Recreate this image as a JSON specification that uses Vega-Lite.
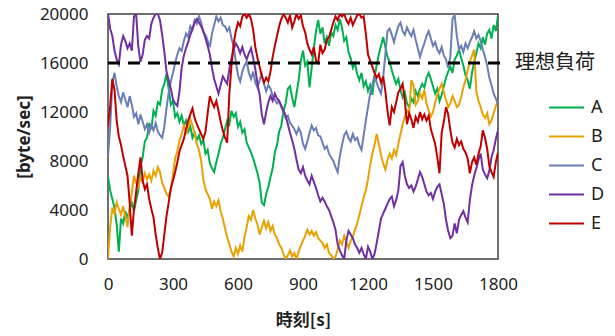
{
"$schema":"https://vega.github.io/schema/vega-lite/v6.json",
"width":390,"height":245,
"autosize":"none",
"padding":{"left":108,"top":14,"right":117,"bottom":77},
"background":"white",
"config":{"view":{"stroke":"#404040","strokeWidth":1.5},"font":"Noto Sans"},
"layer":[
{"data":{"values":[
{"t":0,"A":6700,"B":0,"C":8400,"D":20000,"E":10800},
{"t":10,"A":5600,"B":2600,"C":10800,"D":18800,"E":12500},
{"t":20,"A":4900,"B":4200,"C":14400,"D":18200,"E":14700},
{"t":30,"A":4200,"B":3700,"C":15200,"D":17000,"E":13800},
{"t":40,"A":2800,"B":4600,"C":14100,"D":16300,"E":11300},
{"t":50,"A":600,"B":4100,"C":13300,"D":15900,"E":10000},
{"t":60,"A":3300,"B":3600,"C":12800,"D":17500,"E":9300},
{"t":70,"A":2900,"B":4300,"C":13600,"D":18200,"E":8400},
{"t":80,"A":3900,"B":3500,"C":13000,"D":17800,"E":7600},
{"t":90,"A":3300,"B":2600,"C":12400,"D":17200,"E":6800},
{"t":100,"A":4100,"B":4200,"C":13300,"D":17600,"E":4600},
{"t":110,"A":4600,"B":5400,"C":12600,"D":17000,"E":1900},
{"t":120,"A":3900,"B":6800,"C":11600,"D":19800,"E":4100},
{"t":130,"A":4800,"B":6200,"C":11900,"D":20000,"E":5500},
{"t":140,"A":5600,"B":5900,"C":11000,"D":17300,"E":7000},
{"t":150,"A":7600,"B":6600,"C":11800,"D":16100,"E":8300},
{"t":160,"A":8300,"B":6300,"C":11200,"D":16700,"E":6400},
{"t":170,"A":9600,"B":7000,"C":10600,"D":17900,"E":5700},
{"t":180,"A":9900,"B":6500,"C":11000,"D":18200,"E":6100},
{"t":190,"A":11100,"B":6900,"C":10300,"D":18000,"E":4900},
{"t":200,"A":10600,"B":6400,"C":10900,"D":19200,"E":4100},
{"t":210,"A":12100,"B":7200,"C":10500,"D":19700,"E":3400},
{"t":220,"A":11700,"B":6800,"C":11100,"D":20000,"E":2000},
{"t":230,"A":12800,"B":7500,"C":10400,"D":20000,"E":900},
{"t":240,"A":12600,"B":7100,"C":10100,"D":19500,"E":0},
{"t":250,"A":13800,"B":6200,"C":9900,"D":18300,"E":500},
{"t":260,"A":14300,"B":5800,"C":10800,"D":16900,"E":2000},
{"t":270,"A":15100,"B":5300,"C":12300,"D":15300,"E":3500},
{"t":280,"A":13900,"B":5100,"C":13600,"D":14600,"E":4600},
{"t":290,"A":12600,"B":5600,"C":14500,"D":13900,"E":5800},
{"t":300,"A":12900,"B":6900,"C":15200,"D":13000,"E":6400},
{"t":310,"A":11600,"B":8200,"C":16000,"D":12700,"E":7100},
{"t":320,"A":11900,"B":8800,"C":16700,"D":12500,"E":7900},
{"t":330,"A":11200,"B":9700,"C":17200,"D":13700,"E":8800},
{"t":340,"A":11700,"B":10200,"C":17000,"D":15600,"E":9300},
{"t":350,"A":10900,"B":10900,"C":17800,"D":16600,"E":9800},
{"t":360,"A":11300,"B":10300,"C":18400,"D":17200,"E":10600},
{"t":370,"A":10400,"B":10700,"C":18100,"D":17700,"E":11300},
{"t":380,"A":10800,"B":11400,"C":19000,"D":18300,"E":11800},
{"t":390,"A":9900,"B":10900,"C":18700,"D":18800,"E":12300},
{"t":400,"A":10300,"B":10200,"C":19500,"D":19300,"E":11500},
{"t":410,"A":9700,"B":9400,"C":19200,"D":19600,"E":11000},
{"t":420,"A":10100,"B":8900,"C":19800,"D":19300,"E":10600},
{"t":430,"A":9400,"B":8000,"C":19300,"D":19000,"E":10200},
{"t":440,"A":9700,"B":6500,"C":18500,"D":18600,"E":9800},
{"t":450,"A":8600,"B":5700,"C":18300,"D":18000,"E":10400},
{"t":460,"A":8900,"B":5300,"C":17800,"D":17400,"E":11900},
{"t":470,"A":7800,"B":4900,"C":17300,"D":16700,"E":13300},
{"t":480,"A":7400,"B":4100,"C":18400,"D":15600,"E":12800},
{"t":490,"A":7100,"B":4700,"C":19100,"D":14700,"E":12400},
{"t":500,"A":7900,"B":4300,"C":19800,"D":14100,"E":12900},
{"t":510,"A":8600,"B":4800,"C":19400,"D":13500,"E":12100},
{"t":520,"A":9400,"B":3900,"C":19700,"D":14200,"E":11200},
{"t":530,"A":9900,"B":3300,"C":19100,"D":14900,"E":10500},
{"t":540,"A":10600,"B":2500,"C":19000,"D":14600,"E":9900},
{"t":550,"A":11300,"B":1800,"C":18600,"D":14300,"E":9500},
{"t":560,"A":11000,"B":1200,"C":18900,"D":15500,"E":13500},
{"t":570,"A":12100,"B":600,"C":18000,"D":16400,"E":15800},
{"t":580,"A":11600,"B":200,"C":17400,"D":17100,"E":17600},
{"t":590,"A":11900,"B":900,"C":16100,"D":17600,"E":18600},
{"t":600,"A":10800,"B":400,"C":15000,"D":17300,"E":19300},
{"t":610,"A":11200,"B":1100,"C":14500,"D":16800,"E":19000},
{"t":620,"A":10300,"B":600,"C":15300,"D":17300,"E":19800},
{"t":630,"A":10600,"B":1800,"C":15800,"D":16700,"E":20000},
{"t":640,"A":9500,"B":2600,"C":16100,"D":16300,"E":19700},
{"t":650,"A":9100,"B":3500,"C":15200,"D":16800,"E":20000},
{"t":660,"A":8700,"B":3200,"C":14700,"D":17200,"E":19600},
{"t":670,"A":8200,"B":4000,"C":15300,"D":16400,"E":18700},
{"t":680,"A":7600,"B":3300,"C":14400,"D":15500,"E":17300},
{"t":690,"A":7000,"B":2800,"C":14000,"D":14300,"E":16400},
{"t":700,"A":6200,"B":2000,"C":14600,"D":13400,"E":15700},
{"t":710,"A":4600,"B":2600,"C":15100,"D":11800,"E":14900},
{"t":720,"A":4400,"B":3100,"C":14300,"D":11000,"E":14400},
{"t":730,"A":5300,"B":2500,"C":13700,"D":12000,"E":14800},
{"t":740,"A":5900,"B":3000,"C":14200,"D":12800,"E":14500},
{"t":750,"A":6700,"B":2300,"C":13900,"D":13300,"E":15300},
{"t":760,"A":7400,"B":2700,"C":13300,"D":12900,"E":16500},
{"t":770,"A":8700,"B":2000,"C":13000,"D":13500,"E":17400},
{"t":780,"A":9300,"B":1700,"C":12700,"D":13100,"E":18200},
{"t":790,"A":10400,"B":1200,"C":12900,"D":12900,"E":19000},
{"t":800,"A":10900,"B":900,"C":12400,"D":12500,"E":19600},
{"t":810,"A":12100,"B":400,"C":12000,"D":12100,"E":20000},
{"t":820,"A":12700,"B":0,"C":11500,"D":11700,"E":19700},
{"t":830,"A":13900,"B":300,"C":11700,"D":11000,"E":19300},
{"t":840,"A":14100,"B":700,"C":11100,"D":10300,"E":19900},
{"t":850,"A":13200,"B":200,"C":10900,"D":9700,"E":18900},
{"t":860,"A":12400,"B":500,"C":10600,"D":9000,"E":19400},
{"t":870,"A":13500,"B":0,"C":10200,"D":8100,"E":20000},
{"t":880,"A":14600,"B":600,"C":10700,"D":7300,"E":19600},
{"t":890,"A":16200,"B":1100,"C":10300,"D":7000,"E":19900},
{"t":900,"A":17000,"B":1500,"C":9400,"D":7500,"E":19000},
{"t":910,"A":15800,"B":1900,"C":9000,"D":6800,"E":18500},
{"t":920,"A":16100,"B":2400,"C":9600,"D":6400,"E":17600},
{"t":930,"A":14000,"B":2000,"C":10300,"D":6100,"E":17100},
{"t":940,"A":15600,"B":2300,"C":10900,"D":6800,"E":16700},
{"t":950,"A":17200,"B":1900,"C":10500,"D":6300,"E":17300},
{"t":960,"A":18600,"B":2200,"C":10700,"D":5800,"E":16200},
{"t":970,"A":19500,"B":1700,"C":10100,"D":5200,"E":16000},
{"t":980,"A":18400,"B":1500,"C":10000,"D":4700,"E":17500},
{"t":990,"A":18900,"B":1300,"C":9500,"D":5000,"E":16800},
{"t":1000,"A":17600,"B":900,"C":9000,"D":4700,"E":17100},
{"t":1010,"A":18100,"B":1200,"C":9200,"D":4300,"E":17900},
{"t":1020,"A":17400,"B":500,"C":8600,"D":4000,"E":18100},
{"t":1030,"A":18500,"B":300,"C":8300,"D":3500,"E":18700},
{"t":1040,"A":18200,"B":0,"C":8000,"D":3000,"E":19300},
{"t":1050,"A":19100,"B":200,"C":7500,"D":2400,"E":19800},
{"t":1060,"A":18700,"B":800,"C":7100,"D":1200,"E":19500},
{"t":1070,"A":19600,"B":1500,"C":8400,"D":700,"E":20000},
{"t":1080,"A":18900,"B":1200,"C":9300,"D":300,"E":19800},
{"t":1090,"A":17800,"B":1900,"C":10100,"D":0,"E":20000},
{"t":1100,"A":18100,"B":1400,"C":10400,"D":1500,"E":19500},
{"t":1110,"A":16900,"B":900,"C":9900,"D":2300,"E":19200},
{"t":1120,"A":16400,"B":1500,"C":9600,"D":2000,"E":19700},
{"t":1130,"A":15600,"B":1800,"C":10200,"D":1700,"E":19100},
{"t":1140,"A":16000,"B":2400,"C":9700,"D":1200,"E":19500},
{"t":1150,"A":15100,"B":2900,"C":9900,"D":900,"E":19900},
{"t":1160,"A":14600,"B":3600,"C":9300,"D":500,"E":20000},
{"t":1170,"A":15200,"B":4300,"C":8900,"D":900,"E":19700},
{"t":1180,"A":14100,"B":5000,"C":10100,"D":400,"E":19800},
{"t":1190,"A":14500,"B":5600,"C":11300,"D":0,"E":18400},
{"t":1200,"A":13700,"B":6500,"C":12400,"D":1000,"E":16700},
{"t":1210,"A":14200,"B":7700,"C":13500,"D":600,"E":16200},
{"t":1220,"A":13400,"B":8600,"C":14200,"D":0,"E":15700},
{"t":1230,"A":14900,"B":9300,"C":15000,"D":400,"E":15200},
{"t":1240,"A":15800,"B":10200,"C":14400,"D":1300,"E":14800},
{"t":1250,"A":16700,"B":9400,"C":13900,"D":2300,"E":15100},
{"t":1260,"A":17400,"B":8500,"C":13500,"D":3300,"E":14400},
{"t":1270,"A":18100,"B":7800,"C":14800,"D":3700,"E":14900},
{"t":1280,"A":17300,"B":7300,"C":16700,"D":4100,"E":13700},
{"t":1290,"A":16500,"B":8100,"C":18600,"D":4500,"E":12100},
{"t":1300,"A":16100,"B":8600,"C":18800,"D":4900,"E":10900},
{"t":1310,"A":15400,"B":8200,"C":18300,"D":5100,"E":12400},
{"t":1320,"A":14800,"B":8900,"C":17700,"D":4300,"E":12000},
{"t":1330,"A":14300,"B":8500,"C":18400,"D":4800,"E":12800},
{"t":1340,"A":14700,"B":9400,"C":19000,"D":5600,"E":13600},
{"t":1350,"A":13800,"B":10200,"C":19300,"D":7600,"E":13900},
{"t":1360,"A":13200,"B":11000,"C":18600,"D":7900,"E":14300},
{"t":1370,"A":13600,"B":11600,"C":18300,"D":6800,"E":12900},
{"t":1380,"A":12700,"B":12100,"C":18900,"D":6100,"E":11000},
{"t":1390,"A":12400,"B":11800,"C":18500,"D":5800,"E":11900},
{"t":1400,"A":13100,"B":14600,"C":18200,"D":6000,"E":11400},
{"t":1410,"A":12800,"B":14200,"C":18700,"D":5500,"E":10700},
{"t":1420,"A":13700,"B":12600,"C":17900,"D":5900,"E":11600},
{"t":1430,"A":13300,"B":12900,"C":17200,"D":6500,"E":11200},
{"t":1440,"A":13900,"B":13500,"C":16500,"D":7100,"E":12000},
{"t":1450,"A":14300,"B":13100,"C":17100,"D":6700,"E":11400},
{"t":1460,"A":14000,"B":13800,"C":17600,"D":6100,"E":11800},
{"t":1470,"A":14800,"B":12700,"C":18200,"D":5500,"E":11300},
{"t":1480,"A":15200,"B":12100,"C":18600,"D":5200,"E":11700},
{"t":1490,"A":14700,"B":11600,"C":18000,"D":5400,"E":10600},
{"t":1500,"A":14100,"B":12000,"C":17400,"D":4900,"E":10000},
{"t":1510,"A":13500,"B":12800,"C":17700,"D":5500,"E":9400},
{"t":1520,"A":13900,"B":13400,"C":17100,"D":5900,"E":8300},
{"t":1530,"A":12900,"B":13900,"C":16800,"D":6100,"E":7000},
{"t":1540,"A":13400,"B":14300,"C":17300,"D":5300,"E":10300},
{"t":1550,"A":14100,"B":13600,"C":16600,"D":4500,"E":11200},
{"t":1560,"A":14800,"B":13000,"C":16300,"D":3200,"E":12400},
{"t":1570,"A":15300,"B":12400,"C":15600,"D":2300,"E":11800},
{"t":1580,"A":15700,"B":12700,"C":16500,"D":1700,"E":10500},
{"t":1590,"A":15200,"B":13300,"C":19600,"D":1900,"E":9500},
{"t":1600,"A":16300,"B":12900,"C":19900,"D":2900,"E":9100},
{"t":1610,"A":16600,"B":12400,"C":18200,"D":2100,"E":9800},
{"t":1620,"A":17100,"B":12600,"C":17100,"D":3200,"E":9300},
{"t":1630,"A":16400,"B":13200,"C":17400,"D":3600,"E":9600},
{"t":1640,"A":15800,"B":14000,"C":16900,"D":3900,"E":9000},
{"t":1650,"A":15000,"B":14600,"C":17600,"D":3400,"E":8700},
{"t":1660,"A":14600,"B":15400,"C":17200,"D":3000,"E":8200},
{"t":1670,"A":13900,"B":16100,"C":17700,"D":4800,"E":7000},
{"t":1680,"A":15200,"B":16600,"C":18100,"D":6000,"E":7900},
{"t":1690,"A":16100,"B":17100,"C":18600,"D":6800,"E":8300},
{"t":1700,"A":16800,"B":13700,"C":18000,"D":7400,"E":7700},
{"t":1710,"A":17600,"B":12900,"C":18300,"D":8100,"E":8600},
{"t":1720,"A":17200,"B":12400,"C":17800,"D":8600,"E":9200},
{"t":1730,"A":18100,"B":11800,"C":17100,"D":7300,"E":10500},
{"t":1740,"A":17500,"B":11500,"C":16500,"D":6900,"E":9900},
{"t":1750,"A":18400,"B":11900,"C":15800,"D":6600,"E":9000},
{"t":1760,"A":18700,"B":11000,"C":14800,"D":7200,"E":7600},
{"t":1770,"A":18000,"B":11300,"C":14200,"D":8300,"E":7100},
{"t":1780,"A":19100,"B":11900,"C":13500,"D":8900,"E":6700},
{"t":1790,"A":18600,"B":12500,"C":13100,"D":9800,"E":7900},
{"t":1800,"A":19900,"B":12900,"C":12600,"D":10500,"E":8700}
]},
"transform":[{"fold":["A","B","C","D","E"],"as":["series","value"]}],
"mark":{"type":"line","strokeWidth":2,"clip":true},
"encoding":{
"x":{"field":"t","type":"quantitative","scale":{"domain":[0,1800],"nice":false},
"axis":{"values":[0,300,600,900,1200,1500,1800],"format":"d","title":"時刻[s]","domain":false,"ticks":false,"grid":false,"labelFontSize":17,"labelPadding":17,"labelColor":"#222","labelFlush":false,"titleFont":"Noto Sans CJK JP","titleFontSize":17,"titleFontWeight":"bold","titleColor":"#222","titlePadding":20}},
"y":{"field":"value","type":"quantitative","scale":{"domain":[0,20000],"nice":false},
"axis":{"values":[0,4000,8000,12000,16000,20000],"title":"[byte/sec]","format":"d","domain":false,"ticks":false,"grid":false,"labelFontSize":17,"labelPadding":20,"labelColor":"#222","titleFontSize":17,"titleFontWeight":"bold","titleColor":"#222","titlePadding":6}},
"color":{"field":"series","type":"nominal","scale":{"domain":["A","B","C","D","E"],"range":["#00b050","#e8a202","#6b7eb6","#7030a0","#c00000"]},
"legend":{"title":null,"orient":"none","legendX":440,"legendY":75,"symbolType":"stroke","symbolSize":1225,"symbolStrokeWidth":2,"labelFontSize":18,"labelColor":"#222","labelOffset":6,"rowPadding":1}}
}},
{"data":{"values":[{"t0":0,"t1":1830,"v":16000}]},
"mark":{"type":"rule","color":"black","strokeWidth":3,"strokeDash":[12,8]},
"encoding":{"x":{"field":"t0","type":"quantitative"},"x2":{"field":"t1"},"y":{"field":"v","type":"quantitative"}}},
{"data":{"values":[{"t":1878,"v":16000,"label":"理想負荷"}]},
"mark":{"type":"text","align":"left","baseline":"middle","font":"Noto Sans CJK JP","fontSize":20,"color":"#222"},
"encoding":{"x":{"field":"t","type":"quantitative"},"y":{"field":"v","type":"quantitative"},"text":{"field":"label"}}}
]
}
